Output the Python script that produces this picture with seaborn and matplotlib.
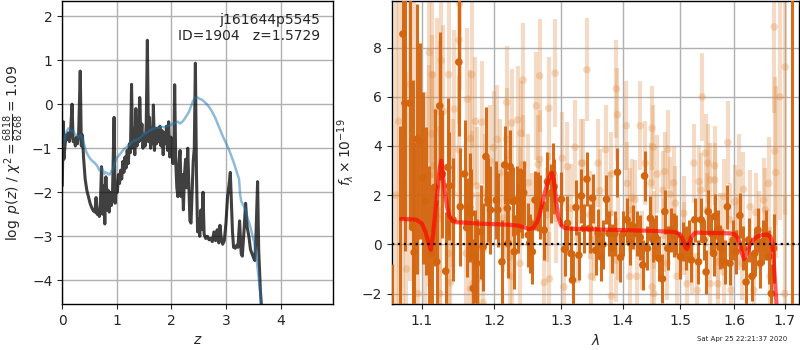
import numpy as np
import pandas as pd
import matplotlib
matplotlib.use('Agg')
import matplotlib.pyplot as plt
from matplotlib.ticker import FixedFormatter, NullLocator
import seaborn as sns

# --- left panel: redshift fit
z_pdf = [0.00, 0.02, 0.03, 0.05, 0.07, 0.09, 0.11, 0.13, 0.15, 0.18, 0.20, 0.22, 0.24, 0.26, 0.28, 0.30,
         0.33, 0.35, 0.37, 0.39, 0.42, 0.45, 0.48, 0.51, 0.54, 0.57, 0.60, 0.62, 0.64, 0.66, 0.68, 0.70,
         0.72, 0.74, 0.76, 0.78, 0.80, 0.82, 0.84, 0.86, 0.88, 0.90, 0.92, 0.95, 0.97, 0.99, 1.01, 1.03,
         1.05, 1.07, 1.09, 1.11, 1.13, 1.15, 1.17, 1.19, 1.21, 1.23, 1.25, 1.27, 1.29, 1.31, 1.33, 1.35,
         1.37, 1.39, 1.41, 1.42, 1.44, 1.46, 1.48, 1.50, 1.52, 1.54, 1.56, 1.58, 1.60, 1.62, 1.64, 1.66,
         1.67, 1.69, 1.71, 1.73, 1.75, 1.77, 1.79, 1.81, 1.83, 1.85, 1.87, 1.89, 1.91, 1.93, 1.95, 1.97,
         1.99, 2.01, 2.03, 2.05, 2.06, 2.08, 2.10, 2.12, 2.14, 2.16, 2.18, 2.20, 2.22, 2.24, 2.26, 2.28,
         2.30, 2.32, 2.34, 2.36, 2.38, 2.40, 2.42, 2.44, 2.46, 2.48, 2.50, 2.52, 2.54, 2.56, 2.58, 2.60,
         2.63, 2.66, 2.69, 2.72, 2.75, 2.78, 2.81, 2.84, 2.87, 2.89, 2.91, 2.94, 2.97, 3.00, 3.03, 3.06,
         3.08, 3.10, 3.12, 3.14, 3.17, 3.20, 3.22, 3.25, 3.28, 3.30, 3.33, 3.36, 3.39, 3.42, 3.45, 3.48,
         3.51, 3.53, 3.55, 3.58, 3.60, 3.63, 3.66, 3.70]
logp = [-1.85, -0.40, -1.25, -0.95, -0.70, -0.80, -0.65, -0.85, -0.70, 0.00, -0.85, -0.80, -0.95, -0.75, -0.90, -0.70,
        0.75, -0.95, -0.70, -1.20, -1.70, -1.95, -2.10, -2.25, -2.35, -2.42, -2.45, -2.12, -2.50, -2.40, -2.55, -2.20,
        -1.42, -2.50, -1.85, -2.72, -1.65, -2.40, -1.95, -2.45, -2.00, -2.30, -2.10, -0.30, -2.25, -1.85, -2.00, -1.60,
        -1.80, -1.50, -1.70, -1.30, -1.55, -1.20, -1.45, -1.05, -1.35, -0.90, -1.10, 0.45, -1.00, -0.55, -1.15, -0.10,
        -0.95, -0.60, -0.85, 0.15, -0.80, -0.45, -1.00, -0.70, -0.95, -0.40, 1.45, -0.85, -0.30, -1.00, -0.55, -0.90,
        -0.02, -1.05, -0.55, -0.90, -0.55, -0.85, -0.50, -0.95, -0.60, -1.15, -0.65, -0.90, -0.50, -1.05, -0.40, -1.20,
        -0.75, -1.10, -1.35, -0.70, 0.44, -1.30, -1.90, -2.10, -1.30, -1.05, -2.10, -1.60, -2.40, -1.60, -1.25, -1.90,
        -1.00, -1.80, -2.65, -2.70, -2.00, -1.30, -1.00, 0.93, -1.60, -2.90, -2.60, -3.00, -2.40, -2.85, -2.00, -2.95,
        -3.05, -3.00, -3.08, -3.05, -3.12, -2.90, -3.10, -2.85, -3.15, -2.75, -3.00, -3.18, -3.10, -2.70, -2.10, -1.80,
        -1.55, -2.20, -2.90, -3.25, -3.27, -3.20, -3.25, -2.65, -3.40, -3.45, -2.90, -2.25, -2.80, -3.00, -3.30, -3.40,
        -3.50, -3.55, -3.00, -1.76, -3.30, -4.20, -4.80, -5.60]

z_chi = [0.00, 0.02, 0.05, 0.08, 0.11, 0.14, 0.17, 0.20, 0.23, 0.26, 0.30, 0.34, 0.37, 0.40, 0.44, 0.48,
         0.52, 0.56, 0.60, 0.64, 0.68, 0.71, 0.74, 0.77, 0.80, 0.84, 0.87, 0.90, 0.93, 0.96, 1.00, 1.03,
         1.08, 1.13, 1.18, 1.23, 1.28, 1.33, 1.38, 1.43, 1.48, 1.53, 1.58, 1.63, 1.68, 1.73, 1.78, 1.83,
         1.88, 1.93, 1.98, 2.03, 2.08, 2.12, 2.16, 2.20, 2.24, 2.28, 2.32, 2.36, 2.40, 2.44, 2.48, 2.52,
         2.56, 2.60, 2.65, 2.70, 2.75, 2.80, 2.85, 2.90, 2.95, 3.00, 3.05, 3.10, 3.15, 3.20, 3.24, 3.26,
         3.28, 3.32, 3.36, 3.40, 3.44, 3.48, 3.52, 3.56, 3.60, 3.64, 3.68]
chi_curve = [-1.00, -0.90, -0.75, -0.62, -0.55, -0.58, -0.62, -0.60, -0.68, -0.70, -0.75, -0.70, -0.80, -0.92, -1.08, -1.18,
             -1.25, -1.30, -1.34, -1.40, -1.50, -1.45, -1.48, -1.58, -1.55, -1.58, -1.60, -1.52, -1.48, -1.35, -1.22, -1.18,
             -1.10, -1.02, -0.98, -0.92, -0.86, -0.82, -0.80, -0.76, -0.70, -0.66, -0.62, -0.58, -0.55, -0.53, -0.54, -0.52,
             -0.52, -0.50, -0.48, -0.44, -0.42, -0.40, -0.44, -0.40, -0.34, -0.26, -0.18, -0.05, 0.08, 0.15, 0.15, 0.12,
             0.10, 0.06, 0.00, -0.08, -0.18, -0.30, -0.45, -0.60, -0.75, -0.88, -1.02, -1.18, -1.35, -1.55, -1.70, -2.05,
             -2.20, -2.30, -2.40, -2.60, -2.75, -2.95, -3.15, -3.50, -3.95, -4.40, -4.90]

# --- right panel: spectrum (wavelength in microns, flux in 1e-19)
lam_model = [1.073, 1.085, 1.093, 1.100, 1.105, 1.109, 1.112, 1.115, 1.118, 1.121, 1.124, 1.126, 1.128, 1.131,
             1.134, 1.137, 1.141, 1.146, 1.16, 1.18, 1.20, 1.22, 1.235, 1.245, 1.251, 1.257, 1.263, 1.268,
             1.273, 1.278, 1.283, 1.286, 1.289, 1.292, 1.296, 1.300, 1.306, 1.32, 1.35, 1.40, 1.45, 1.49,
             1.50, 1.505, 1.509, 1.512, 1.516, 1.520, 1.526, 1.53, 1.56, 1.59, 1.600, 1.606, 1.611, 1.615,
             1.619, 1.624, 1.630, 1.637, 1.645, 1.655, 1.665, 1.671, 1.675, 1.678, 1.681, 1.684]
flux_model = [1.03, 1.02, 1.00, 0.85, 0.50, 0.05, -0.22, 0.40, 1.30, 2.20, 3.10, 3.40, 2.90, 2.10,
              1.50, 1.15, 0.98, 0.90, 0.88, 0.84, 0.82, 0.80, 0.76, 0.68, 0.62, 0.66, 0.90, 1.30,
              1.90, 2.40, 2.80, 2.90, 2.55, 1.80, 1.10, 0.78, 0.66, 0.63, 0.61, 0.58, 0.55, 0.50,
              0.40, 0.15, -0.10, -0.18, 0.05, 0.30, 0.46, 0.48, 0.46, 0.45, 0.42, 0.30, 0.05, -0.35,
              -0.60, -0.40, -0.05, 0.18, 0.32, 0.38, 0.40, 0.32, 0.05, -0.80, -1.70, -2.60]

dark_wave = [1.0615, 1.072, 1.0754, 1.078, 1.084, 1.088, 1.090, 1.094, 1.098, 1.102, 1.105, 1.110, 1.113, 1.117,
             1.120, 1.124, 1.1275, 1.132, 1.135, 1.137, 1.142, 1.150, 1.152, 1.158, 1.161, 1.165, 1.167, 1.170,
             1.173, 1.175, 1.181, 1.184, 1.188, 1.191, 1.1945, 1.203, 1.205, 1.211, 1.215, 1.219, 1.220, 1.223,
             1.2275, 1.229, 1.2325, 1.235, 1.2375, 1.240, 1.243, 1.250, 1.252, 1.256, 1.260, 1.2645, 1.267, 1.274,
             1.279, 1.284, 1.287, 1.289, 1.3006, 1.3055, 1.310, 1.3155, 1.318, 1.3235, 1.328, 1.332, 1.336, 1.341,
             1.3455, 1.350, 1.355, 1.359, 1.3635, 1.367, 1.3728, 1.377, 1.382, 1.3865, 1.391, 1.396, 1.401, 1.407,
             1.412, 1.418, 1.4236, 1.4295, 1.434, 1.437, 1.442, 1.447, 1.452, 1.456, 1.462, 1.468, 1.4723, 1.4776,
             1.4836, 1.488, 1.493, 1.500, 1.505, 1.511, 1.515, 1.520, 1.526, 1.533, 1.538, 1.543, 1.547, 1.551,
             1.557, 1.561, 1.563, 1.569, 1.573, 1.577, 1.5816, 1.587, 1.592, 1.598, 1.6035, 1.611, 1.618, 1.623,
             1.628, 1.6345, 1.640, 1.646, 1.651, 1.656, 1.662, 1.6675, 1.673, 1.6775, 1.714]
dark_flux = [-4.0, -3.0, 8.55, 5.74, 5.74, 0.68, -0.33, 4.28, 4.20, 2.69, 1.76, 0.20, -0.37, 2.32,
             -0.71, 5.63, 2.86, -1.09, 3.13, 2.38, 1.00, 7.41, 1.53, 2.86, 0.68, 1.50, 1.26, -1.79,
             -0.50, -0.77, 0.51, -0.10, 3.57, 1.80, 1.40, 1.80, 1.40, -0.71, 3.23, 1.47, 0.04, 3.16,
             1.74, -0.30, 1.80, 1.06, 1.80, 1.67, 2.10, 0.38, 0.04, -0.30, 1.80, 1.74, 1.53, 0.58,
             2.55, 2.08, 2.90, 2.35, 1.83, -0.20, 0.86, -0.37, -1.45, 1.50, -0.44, 1.97, 0.65, 2.65,
             0.65, 1.88, -0.24, 0.44, -0.50, 0.00, 1.83, 0.44, -0.16, 0.44, 2.93, -0.53, 0.44, 1.00,
             0.07, 0.72, 0.44, 0.28, -0.84, 2.78, -0.16, 1.06, 0.18, 0.31, -0.57, -1.40, 1.33, -0.16,
             0.58, 0.38, 0.38, -0.50, 0.11, -0.16, 0.20, -0.64, 1.00, -0.71, 1.00, 0.18, -1.12, 1.33,
             0.44, -0.37, 1.13, 0.58, -0.10, -0.16, -0.71, 1.53, -0.77, 0.18, -0.30, 1.17, -0.16, -1.53,
             0.18, -1.30, -0.37, 0.58, -0.77, 0.11, 0.38, -0.50, -2.00, -0.16, 12.0]
dark_err = [3.2, 7.8, 7.5, 6.0, 5.0, 6.0, 4.5, 5.5, 4.0, 3.5, 3.0, 3.0, 2.8, 3.2,
            2.5, 3.0, 2.6, 2.4, 2.8, 2.2, 2.5, 3.0, 2.4, 2.2, 2.0, 2.2, 1.8, 2.0,
            1.9, 1.8, 1.9, 1.8, 2.0, 1.7, 1.8, 1.6, 1.5, 1.7, 1.6, 1.5, 1.4, 1.5,
            1.4, 1.5, 1.4, 1.4, 1.3, 1.4, 1.3, 1.3, 1.2, 1.3, 1.2, 1.2, 1.3, 1.2,
            1.2, 1.2, 1.2, 1.1, 1.1, 1.1, 1.1, 1.1, 1.2, 1.1, 1.0, 1.1, 1.0, 1.1,
            1.0, 1.0, 1.0, 1.0, 1.0, 1.0, 1.0, 0.9, 1.0, 0.9, 1.0, 1.0, 0.9, 0.9,
            0.9, 0.9, 0.9, 0.9, 1.0, 1.0, 0.9, 0.9, 0.9, 0.9, 0.9, 1.0, 0.9, 0.9,
            0.9, 0.9, 0.8, 0.9, 0.8, 0.9, 0.8, 0.9, 0.9, 0.9, 0.9, 0.8, 0.9, 0.9,
            0.8, 0.9, 0.9, 0.8, 0.9, 0.8, 0.9, 0.9, 0.9, 0.8, 0.9, 0.9, 0.9, 1.0,
            0.9, 1.0, 0.9, 0.9, 1.0, 0.9, 1.0, 1.1, 1.2, 1.4, 20.0]

light_wave = [1.066, 1.070, 1.075, 1.080, 1.085, 1.090, 1.095, 1.104, 1.110, 1.110, 1.113, 1.114, 1.115, 1.120,
              1.124, 1.124, 1.124, 1.126, 1.129, 1.136, 1.136, 1.1385, 1.1417, 1.144, 1.150, 1.150, 1.151, 1.160,
              1.162, 1.166, 1.166, 1.168, 1.168, 1.170, 1.173, 1.175, 1.177, 1.177, 1.182, 1.184, 1.186, 1.1945,
              1.199, 1.204, 1.208, 1.213, 1.217, 1.218, 1.218, 1.218, 1.223, 1.225, 1.225, 1.234, 1.2375, 1.2375,
              1.2385, 1.242, 1.242, 1.250, 1.255, 1.262, 1.2645, 1.267, 1.267, 1.274, 1.278, 1.281, 1.282, 1.282,
              1.2907, 1.292, 1.3017, 1.3044, 1.310, 1.3155, 1.322, 1.326, 1.332, 1.334, 1.341, 1.3455, 1.348, 1.352,
              1.359, 1.362, 1.3715, 1.379, 1.381, 1.381, 1.3892, 1.389, 1.391, 1.392, 1.406, 1.407, 1.4115, 1.4115,
              1.415, 1.4206, 1.4236, 1.4295, 1.4325, 1.4383, 1.448, 1.450, 1.450, 1.452, 1.453, 1.453, 1.459, 1.469,
              1.4707, 1.472, 1.4766, 1.4776, 1.481, 1.488, 1.491, 1.494, 1.506, 1.506, 1.512, 1.5215, 1.5245, 1.531,
              1.5337, 1.537, 1.540, 1.546, 1.5485, 1.550, 1.555, 1.555, 1.563, 1.563, 1.569, 1.569, 1.574, 1.580,
              1.580, 1.588, 1.5916, 1.594, 1.6014, 1.6079, 1.610, 1.6147, 1.618, 1.631, 1.6377, 1.642, 1.6476, 1.6575,
              1.661, 1.6675, 1.670, 1.6788, 1.680, 1.682, 1.690, 1.701, 1.700]
light_flux = [2.0, 5.0, 2.50, -1.0, 6.5, 3.0, -2.0, 1.20, 7.80, 2.80, 4.50, 6.90, 3.20, 5.40,
              4.67, 1.06, -2.00, 7.47, 5.40, 6.90, -0.37, -1.55, 2.08, 5.50, 8.30, 3.85, 9.79, -0.37,
              5.90, 4.30, -1.80, 6.90, 2.00, -1.60, 5.00, 2.38, -0.16, -1.40, 4.97, -2.37, 2.08, 3.37,
              3.93, 4.27, 2.90, 1.06, 1.47, 5.78, 4.27, 1.85, -0.50, 4.93, -1.30, 5.06, 1.95, -0.77,
              4.52, 6.68, 3.25, 2.50, 0.90, 5.63, 3.25, 6.85, 3.45, -1.55, 1.20, 5.53, 1.83, -1.40,
              6.96, 1.06, 3.50, -1.73, 3.16, 1.47, 3.95, 0.24, 3.30, 3.30, 7.10, 1.20, -1.30, 0.20,
              3.30, 2.18, 3.85, 1.26, 2.86, -2.10, 6.32, -0.64, 5.27, 0.24, 4.82, 2.48, 1.40, -1.30,
              1.88, 1.83, -1.30, 4.82, -0.24, 3.30, 2.50, 4.72, -1.73, 3.95, 0.58, -2.00, 2.86, 2.20,
              0.38, 2.96, -0.77, 3.87, 2.04, 2.50, 1.67, -1.30, 1.26, 0.24, -1.60, -0.50, 3.30, -1.86,
              2.55, 2.20, 5.99, 3.71, 1.40, 3.30, 2.62, -1.60, 3.20, 2.62, -0.71, -1.60, 0.58, 1.95,
              -1.12, 4.14, 1.00, -1.86, 1.74, 0.44, 2.90, -0.77, 2.24, 1.53, -1.86, 1.30, 0.58, 1.80,
              1.40, 2.48, -1.30, 8.84, 3.79, 2.93, 6.0, 7.21, -2.0]
light_err = [9.0, 10.0, 8.0, 8.0, 8.0, 7.0, 6.0, 5.0, 4.5, 4.5, 4.0, 4.2, 3.8, 3.8,
             3.6, 3.5, 3.5, 3.6, 3.5, 3.4, 3.2, 3.0, 3.0, 3.2, 3.4, 3.0, 3.5, 2.8,
             2.9, 2.8, 2.6, 3.0, 2.6, 2.5, 2.6, 2.4, 2.3, 2.2, 2.5, 2.3, 2.4, 2.3,
             2.3, 2.2, 2.2, 2.2, 2.1, 2.3, 2.1, 2.0, 2.0, 2.2, 2.0, 2.2, 2.0, 2.0,
             2.1, 2.3, 2.0, 2.0, 2.0, 2.2, 2.0, 2.3, 2.0, 2.0, 1.9, 2.1, 1.9, 1.9,
             2.2, 1.8, 1.9, 1.8, 1.8, 1.8, 1.9, 1.8, 1.8, 1.8, 2.1, 1.8, 1.8, 1.7,
             1.8, 1.7, 1.8, 1.7, 1.7, 1.7, 2.0, 1.7, 1.9, 1.7, 1.8, 1.7, 1.7, 1.7,
             1.6, 1.6, 1.6, 1.8, 1.6, 1.7, 1.6, 1.7, 1.6, 1.7, 1.6, 1.6, 1.6, 1.6,
             1.5, 1.6, 1.5, 1.6, 1.5, 1.5, 1.5, 1.5, 1.5, 1.5, 1.5, 1.5, 1.6, 1.5,
             1.5, 1.5, 1.8, 1.6, 1.5, 1.6, 1.5, 1.5, 1.6, 1.5, 1.5, 1.5, 1.5, 1.5,
             1.5, 1.7, 1.5, 1.5, 1.5, 1.5, 1.6, 1.5, 1.5, 1.5, 1.6, 1.6, 1.6, 1.7,
             1.7, 1.9, 2.0, 3.5, 3.0, 3.5, 5.0, 6.0, 4.0]

root = 'j161644p5545'
obj_id = 1904
z_best = 1.5729
chi2_num, chi2_den = 6818, 6268
stamp = 'Sat Apr 25 22:21:37 2020'

sns.set_style('ticks', {'axes.grid': True, 'grid.color': '#b0b0b0', 'axes.edgecolor': 'black'})
plt.rcParams['font.family'] = ['DejaVu Sans']
plt.rcParams['mathtext.fontset'] = 'dejavusans'

fig = plt.figure(figsize=(8, 3.5), dpi=100)
ax1 = fig.add_axes([0.0778, 0.131, 0.339, 0.866])
ax2 = fig.add_axes([0.4896, 0.131, 0.5095, 0.866])

pdf_df = pd.DataFrame({'z': z_pdf, 'logp': logp})
chi_df = pd.DataFrame({'z': z_chi, 'val': chi_curve})
sns.lineplot(data=pdf_df, x='z', y='logp', ax=ax1, color='black', alpha=0.75, lw=2.2,
             sort=False, estimator=None)
sns.lineplot(data=chi_df, x='z', y='val', ax=ax1, color='#1f77b4', alpha=0.5, lw=1.8,
             sort=False, estimator=None)
ax1.set_xlim(0, 4.97)
ax1.set_ylim(-4.54, 2.34)
ax1.set_xticks([0, 1, 2, 3, 4])
ax1.set_yticks([-4, -3, -2, -1, 0, 1, 2])
ax1.set_xlabel('$z$')
ax1.set_ylabel(r'$\log\ p(z)$' + ' / ' + r'$\chi^2=\frac{%d}{%d}=%.2f$' % (chi2_num, chi2_den, chi2_num / chi2_den))
ax1.text(0.95, 0.96, '%s\nID=%d   z=%.4f' % (root, obj_id, z_best), ha='right', va='top',
         transform=ax1.transAxes, fontsize=10)

# unbinned spectrum (light), then binned (dark)
light_col = '#e08a40'
dark_col = '#d4650f'
ax2.errorbar(light_wave, light_flux, yerr=light_err, fmt='none', ecolor=light_col, alpha=0.3,
             elinewidth=3, zorder=1)
sns.scatterplot(x=light_wave, y=light_flux, ax=ax2, color=light_col, alpha=0.3, s=30,
                edgecolor='none', zorder=2)
ax2.errorbar(dark_wave, dark_flux, yerr=dark_err, fmt='none', ecolor=dark_col, alpha=0.95,
             elinewidth=2.2, zorder=3)
sns.scatterplot(x=dark_wave, y=dark_flux, ax=ax2, color=dark_col, s=30, edgecolor='none', zorder=4)
model_df = pd.DataFrame({'wave': lam_model, 'flux': flux_model})
sns.lineplot(data=model_df, x='wave', y='flux', ax=ax2, color='red', alpha=0.65, lw=3,
             sort=False, estimator=None, zorder=5)
ax2.axhline(0, color='black', ls=':', lw=1.6, zorder=6)

ax2.set_xscale('log')
ax2.set_xlim(1.061, 1.730)
ax2.set_ylim(-2.43, 9.89)
wave_ticks = [1.1, 1.2, 1.3, 1.4, 1.5, 1.6, 1.7]
ax2.set_xticks(wave_ticks)
ax2.xaxis.set_major_formatter(FixedFormatter(['%.1f' % w for w in wave_ticks]))
ax2.xaxis.set_minor_locator(NullLocator())
ax2.set_yticks([-2, 0, 2, 4, 6, 8])
ax2.set_xlabel(r'$\lambda$')
ax2.set_ylabel(r'$f_\lambda\times10^{-19}$')

for ax in (ax1, ax2):
    ax.grid(True, color='#b0b0b0', lw=1)
    ax.tick_params(labelsize=10, length=3.5, width=0.8, direction='out')
    for sp in ax.spines.values():
        sp.set_color('black')
        sp.set_linewidth(1)
    ax.set_axisbelow(True)

fig.text(0.984, 0.022, stamp, ha='right', va='bottom', fontsize=5)

fig.savefig('out.png', dpi=100)
